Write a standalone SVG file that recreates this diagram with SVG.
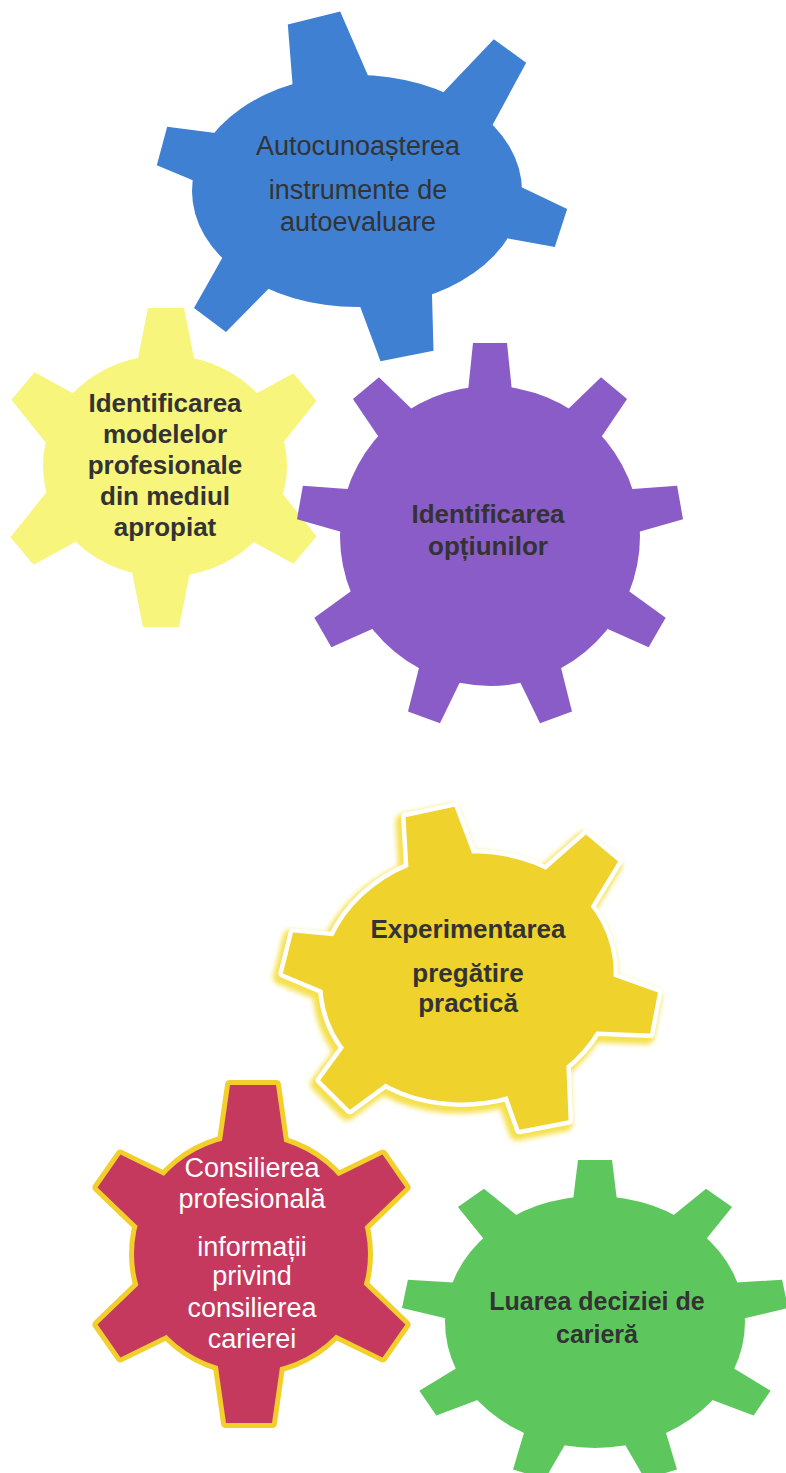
<svg xmlns="http://www.w3.org/2000/svg" xmlns:xlink="http://www.w3.org/1999/xlink" width="786" height="1473" viewBox="0 0 786 1473">
<style>
.lbl{font-family:"Liberation Sans",Arial,sans-serif;text-anchor:middle;fill:#333}
.b{font-weight:bold}
.w{fill:#ffffff}
</style>
<defs>
<polygon id="tbw" points="-27,0 27,0 42,90 -42,90"/>
<polygon id="tbn" points="-20,0 20,0 32,90 -32,90"/>
<polygon id="ty" points="-18,0 18,0 32,70 -32,70"/>
<polygon id="t9" points="-17,-193 17,-193 23,-135 -23,-135"/>
<polygon id="tgw" points="-25,0 25,0 38,85 -38,85"/>
<polygon id="tgn" points="-21,0 21,0 34,85 -34,85"/>
<polygon id="tpw" points="-23,0 23,0 33,70 -33,70"/>
<polygon id="tpn" points="-20,0 20,0 31,70 -31,70"/>
<g id="shape9">
<circle cx="0" cy="0" r="150"/>
<use xlink:href="#t9"/>
<use xlink:href="#t9" transform="rotate(40)"/>
<use xlink:href="#t9" transform="rotate(80)"/>
<use xlink:href="#t9" transform="rotate(120)"/>
<use xlink:href="#t9" transform="rotate(160)"/>
<use xlink:href="#t9" transform="rotate(200)"/>
<use xlink:href="#t9" transform="rotate(240)"/>
<use xlink:href="#t9" transform="rotate(280)"/>
<use xlink:href="#t9" transform="rotate(320)"/>
</g>
<g id="shape4">
<ellipse cx="468" cy="978" rx="146" ry="124" transform="rotate(-8 468 978)"/>
<use xlink:href="#tgw" transform="translate(430,812) rotate(-12)"/>
<use xlink:href="#tgn" transform="translate(602,848) rotate(40)"/>
<use xlink:href="#tgn" transform="translate(654,1013) rotate(101)"/>
<use xlink:href="#tgw" transform="translate(544,1125) rotate(169)"/>
<use xlink:href="#tgn" transform="translate(335,1095) rotate(225)"/>
<use xlink:href="#tgn" transform="translate(288,953) rotate(284)"/>
</g>
<g id="shape5">
<circle cx="251" cy="1254" r="117"/>
<use xlink:href="#tpw" transform="translate(253,1085) rotate(0)"/>
<use xlink:href="#tpn" transform="translate(394,1171) rotate(55)"/>
<use xlink:href="#tpn" transform="translate(394,1341) rotate(125)"/>
<use xlink:href="#tpw" transform="translate(249,1423) rotate(180)"/>
<use xlink:href="#tpn" transform="translate(109,1341) rotate(235)"/>
<use xlink:href="#tpn" transform="translate(109,1171) rotate(305)"/>
</g>
<filter id="glow" x="-20%" y="-20%" width="140%" height="140%">
<feGaussianBlur stdDeviation="2.5"/>
</filter>
</defs>
<rect x="0" y="0" width="786" height="1473" fill="#ffffff"/>

<g id="gear-autocunoasterea" fill="#3f80d2">
<ellipse cx="357" cy="191" rx="165" ry="116"/>
<use xlink:href="#tbw" transform="translate(314,18) rotate(-14)"/>
<use xlink:href="#tbn" transform="translate(510,51) rotate(36)"/>
<use xlink:href="#tbn" transform="translate(561,228) rotate(108)"/>
<use xlink:href="#tbw" transform="translate(407,356) rotate(169)"/>
<use xlink:href="#tbn" transform="translate(210,320) rotate(217)"/>
<use xlink:href="#tbn" transform="translate(162,146) rotate(285)"/>
<text class="lbl" x="358" y="155" font-size="27">Autocunoașterea</text>
<text class="lbl" x="358" y="199" font-size="27">instrumente de</text>
<text class="lbl" x="358" y="231" font-size="27">autoevaluare</text>
</g>

<g id="gear-modele" fill="#f7f57c">
<ellipse cx="165" cy="466" rx="122" ry="111"/>
<use xlink:href="#ty" transform="translate(166,308) rotate(0)"/>
<use xlink:href="#ty" transform="translate(305,387) rotate(50)"/>
<use xlink:href="#ty" transform="translate(305,550) rotate(130)"/>
<use xlink:href="#ty" transform="translate(161,627) rotate(180)"/>
<use xlink:href="#ty" transform="translate(22,551) rotate(230)"/>
<use xlink:href="#ty" transform="translate(23,386) rotate(310)"/>
<text class="lbl b" x="165" y="412" font-size="26">Identificarea</text>
<text class="lbl b" x="165" y="443" font-size="26">modelelor</text>
<text class="lbl b" x="165" y="474" font-size="26">profesionale</text>
<text class="lbl b" x="165" y="505" font-size="26">din mediul</text>
<text class="lbl b" x="165" y="536" font-size="26">apropiat</text>
</g>

<g id="gear-optiuni" fill="#8a5cc8">
<use xlink:href="#shape9" transform="translate(490,536)"/>
<text class="lbl b" x="488" y="523" font-size="26">Identificarea</text>
<text class="lbl b" x="488" y="555" font-size="26">opțiunilor</text>
</g>

<g id="gear-experimentarea">
<use xlink:href="#shape4" transform="translate(-3,4)" fill="#f5e04e" stroke="#f5e04e" stroke-width="14" stroke-linejoin="round" filter="url(#glow)"/>
<use xlink:href="#shape4" fill="#ffffff" stroke="#ffffff" stroke-width="9" stroke-linejoin="round"/>
<use xlink:href="#shape4" fill="#efd22c"/>
<text class="lbl b" x="468" y="938" font-size="26">Experimentarea</text>
<text class="lbl b" x="468" y="982" font-size="26">pregătire</text>
<text class="lbl b" x="468" y="1012" font-size="26">practică</text>
</g>

<g id="gear-consilierea">
<use xlink:href="#shape5" fill="#f3cf2b" stroke="#f3cf2b" stroke-width="10" stroke-linejoin="round"/>
<use xlink:href="#shape5" fill="#c5395f"/>
<text class="lbl w" x="252" y="1177" font-size="27">Consilierea</text>
<text class="lbl w" x="252" y="1208" font-size="27">profesională</text>
<text class="lbl w" x="252" y="1256" font-size="27">informații</text>
<text class="lbl w" x="252" y="1285" font-size="27">privind</text>
<text class="lbl w" x="252" y="1317" font-size="27">consilierea</text>
<text class="lbl w" x="252" y="1348" font-size="27">carierei</text>
</g>

<g id="gear-decizie" fill="#5dc75e">
<use xlink:href="#shape9" transform="translate(595,1322) scale(1,0.84)"/>
<text class="lbl b" x="597" y="1310" font-size="25">Luarea deciziei de</text>
<text class="lbl b" x="597" y="1343" font-size="25">carieră</text>
</g>
</svg>
